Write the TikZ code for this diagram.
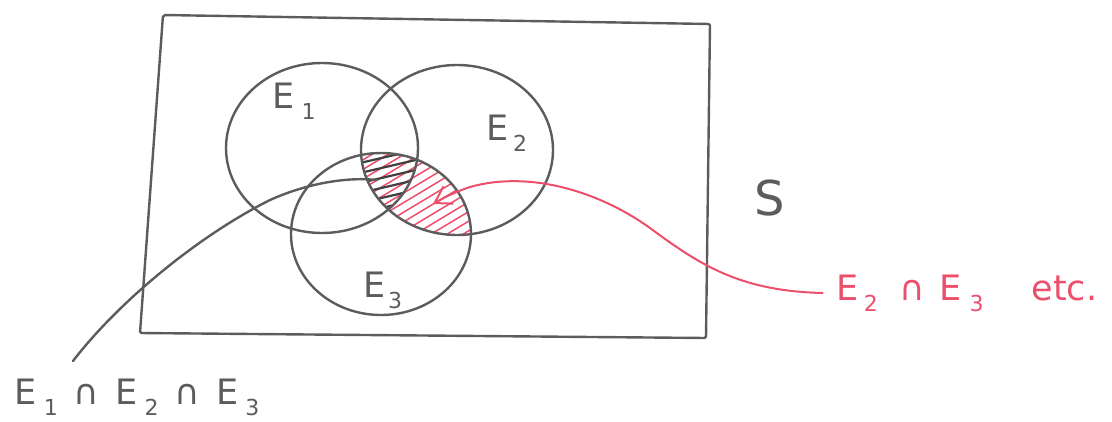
\documentclass[tikz,border=0pt]{standalone}
\usepackage{fontspec}
\setmainfont{DejaVu Sans}
\usetikzlibrary{arrows.meta}
\definecolor{pencil}{RGB}{92,92,92}
\definecolor{redpen}{RGB}{236,78,108}
\newcommand{\lowidx}[1]{\raisebox{-0.32em}{\fontsize{22}{22}\selectfont #1}}
\begin{document}
\begin{tikzpicture}[x=1pt,y=-1pt,
  pen/.style={draw=pencil, line width=2.4pt, line join=round, line cap=round},
  redline/.style={draw=redpen, line width=2pt, line cap=round},
  lab/.style={text=pencil, font=\fontsize{35}{38}\selectfont, inner sep=0pt},
  redlab/.style={lab, text=redpen},
  hatchr/.style={draw=redpen, line width=1.5pt, line cap=round},
  hatchk/.style={draw=pencil!70!black, line width=2.2pt, line cap=round}]
\useasboundingbox (0,0) rectangle (1112,421);
% sample space
\draw[pen, rounded corners=2pt] (163,15) -- (710,24) -- (706,338) -- (140,333) -- cycle;
% hatching E2 n E3
\begin{scope}
  \clip (457,150) ellipse [x radius=96pt, y radius=85pt];
  \clip (381,234) ellipse [x radius=90pt, y radius=81pt];
  \foreach \k in {0,...,17} \draw[hatchr] (180+\k*16,260) -- ++(200,-120);
\end{scope}
% hatching E1 n E2 n E3
\begin{scope}
  \clip (322,148) ellipse [x radius=96pt, y radius=85pt];
  \clip (457,150) ellipse [x radius=96pt, y radius=85pt];
  \clip (381,234) ellipse [x radius=90pt, y radius=81pt];
  \foreach \k in {0,...,6} \draw[hatchk] (330,170+\k*10) -- ++(120,-28);
\end{scope}
% events
\draw[pen] (322,148) ellipse [x radius=96pt, y radius=85pt];
\draw[pen] (457,150) ellipse [x radius=96pt, y radius=85pt];
\draw[pen] (381,234) ellipse [x radius=90pt, y radius=81pt];
% labels
\node[lab] (e1) at (294,101) {E\hspace{7pt}\lowidx{1}};
\node[lab] (e2) at (507,133) {E\hspace{4pt}\lowidx{2}};
\node[lab] (e3) at (383,290) {E\hspace{2pt}\lowidx{3}};
\node[lab, font=\fontsize{48}{48}\selectfont] (s) at (770,198) {S};
\node[lab] (l123) at (137,397) {E\hspace{7pt}\lowidx{1}\hspace{16pt}∩\hspace{16pt}E\hspace{7pt}\lowidx{2}\hspace{16pt}∩\hspace{16pt}E\hspace{7pt}\lowidx{3}};
\node[redlab] (l23) at (967,293) {E\hspace{5pt}\lowidx{2}\hspace{22pt}∩\hspace{14pt}E\hspace{8pt}\lowidx{3}\hspace{48pt}etc.};
% connectors
\coordinate (bstart) at (73,361);
\coordinate (tri) at (377,180);
\coordinate (tip) at (433,204);
\draw[pen] (bstart) .. controls (120,300) and (200,235) .. (270,200)
  .. controls (310,182) and (350,177) .. (tri);
\draw[redline, -{Straight Barb[length=16pt,width=20pt]}] ([xshift=-14pt]l23.west)
  .. controls (740,291) and (700,265) .. (650,228)
  .. controls (600,192) and (530,170) .. (470,187)
  .. controls (455,192) and (445,197) .. (tip);
\end{tikzpicture}
\end{document}
